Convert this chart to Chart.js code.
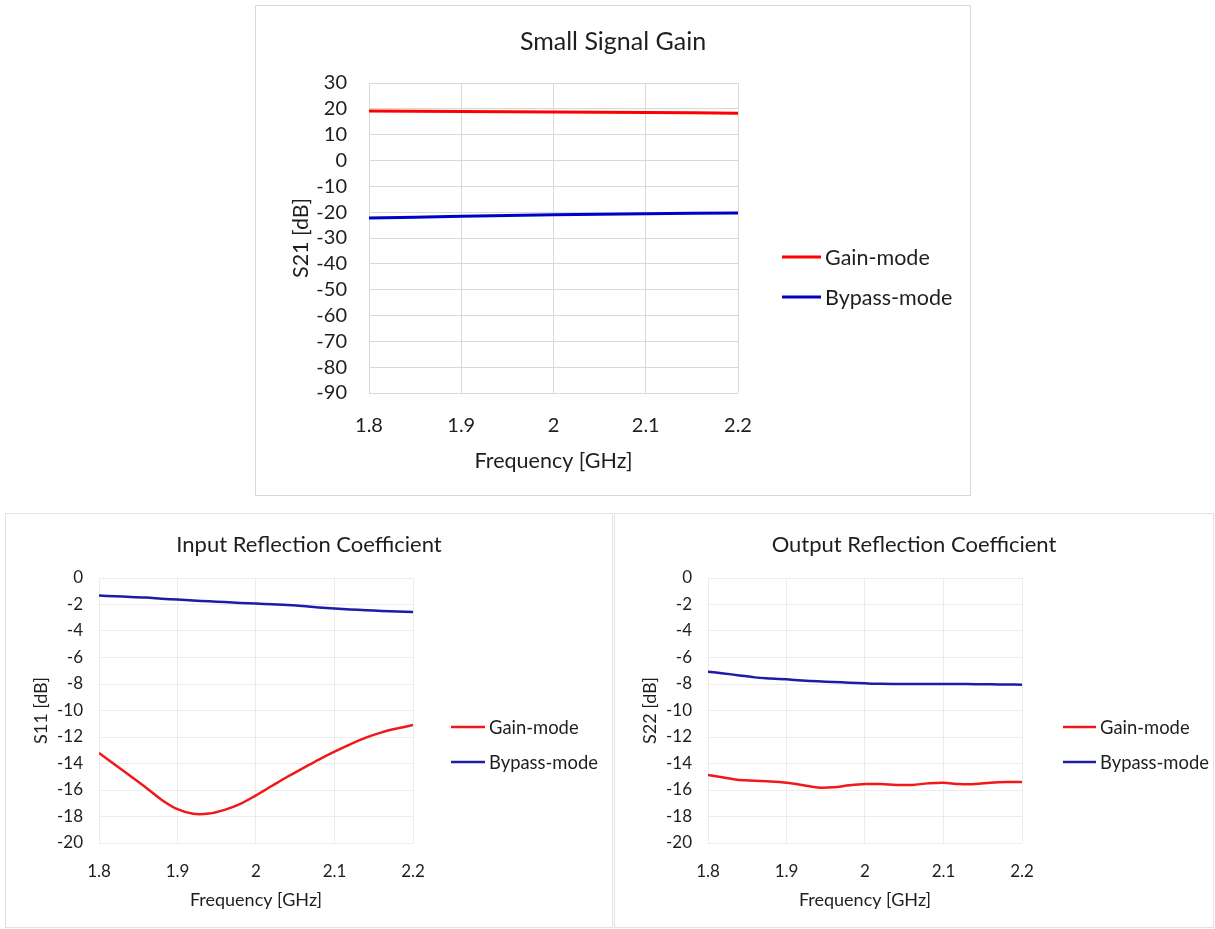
<!DOCTYPE html>
<html lang="en">
<head>
    <meta charset="UTF-8">
    <title>Small Signal Gain / Reflection Coefficients</title>
    <script src="https://cdn.jsdelivr.net/npm/chart.js@4.4.1/dist/chart.umd.min.js"></script>
    <style>
        body { margin: 0; background: #fff; }
        .box { position: absolute; border: 1px solid #d9d9d9; background: #fff; }
        .box canvas { display: block; }
    </style>
</head>
<body>
    <div class="box" style="left:255px; top:5px;"><canvas id="c_s21" width="714" height="489"></canvas></div>
    <div class="box" style="left:5px; top:513px; border-color:#e2e2e2;"><canvas id="c_s11" width="606" height="413"></canvas></div>
    <div class="box" style="left:614px; top:513px; border-color:#e2e2e2;"><canvas id="c_s22" width="598" height="413"></canvas></div>

    <script>
        // frequency points [GHz]
        var freqS21 = [1.8, 1.9, 2.0, 2.1, 2.2]
        var freq = [1.80, 1.82, 1.84, 1.86, 1.88, 1.90, 1.92, 1.94, 1.96, 1.98, 2.00,
                    2.02, 2.04, 2.06, 2.08, 2.10, 2.12, 2.14, 2.16, 2.18, 2.20]

        // S21 [dB]
        var s21Gain = [19.2, 19.0, 18.8, 18.6, 18.3]
        var s21Bypass = [-22.3, -21.6, -21.0, -20.6, -20.3]

        // S11 [dB]
        var s11Gain = [-13.2, -14.08, -14.95, -15.83, -16.75, -17.45, -17.8, -17.78, -17.5, -17.05, -16.4,
                       -15.7, -15.0, -14.35, -13.7, -13.1, -12.55, -12.05, -11.65, -11.35, -11.1]
        var s11Bypass = [-1.33, -1.38, -1.43, -1.48, -1.56, -1.63, -1.70, -1.76, -1.82, -1.88, -1.93,
                         -1.98, -2.03, -2.12, -2.22, -2.30, -2.37, -2.43, -2.49, -2.53, -2.56]

        // S22 [dB]
        var s22Gain = [-14.87, -15.05, -15.25, -15.3, -15.35, -15.45, -15.62, -15.82, -15.8, -15.65, -15.55,
                       -15.55, -15.62, -15.62, -15.5, -15.45, -15.55, -15.55, -15.45, -15.4, -15.4]
        var s22Bypass = [-7.07, -7.2, -7.35, -7.5, -7.58, -7.65, -7.73, -7.8, -7.85, -7.9, -7.95,
                         -7.99, -8.0, -8.0, -8.0, -8.0, -8.0, -8.01, -8.02, -8.04, -8.05]

        var seriesNames = ['Gain-mode', 'Bypass-mode']
        var xTicks = [1.8, 1.9, 2.0, 2.1, 2.2]

        Chart.defaults.font.family = 'Lato, "Noto Sans", sans-serif'
        Chart.defaults.color = '#1e1e1e'

        function pontos(xs, ys) {
            return xs.map(function (x, i) { return { x: x, y: ys[i] } })
        }

        // title centred on the whole canvas + legend at a fixed spot right of the plot
        var tituloLegenda = {
            id: 'tituloLegenda',
            afterDraw: function (chart, args, opts) {
                var ctx = chart.ctx
                ctx.save()
                ctx.textBaseline = 'middle'
                ctx.fillStyle = '#1e1e1e'
                ctx.font = opts.titleSize + 'px ' + Chart.defaults.font.family
                ctx.textAlign = 'center'
                ctx.fillText(opts.title, chart.width / 2, opts.titleY)

                ctx.textAlign = 'left'
                ctx.font = opts.fontSize + 'px ' + Chart.defaults.font.family
                chart.data.datasets.forEach(function (ds, i) {
                    var y = opts.y + i * opts.gap
                    ctx.strokeStyle = ds.borderColor
                    ctx.lineWidth = ds.borderWidth
                    ctx.beginPath()
                    ctx.moveTo(opts.x, y)
                    ctx.lineTo(opts.x + opts.len, y)
                    ctx.stroke()
                    ctx.fillStyle = '#1e1e1e'
                    ctx.fillText(ds.label, opts.x + opts.len + 4, y + 1)
                })
                ctx.restore()
            }
        }

        function gerarGrafico(id, cfg) {
            var ctx = document.getElementById(id).getContext('2d')
            return new Chart(ctx, {
                type: 'line',
                data: {
                    datasets: [{
                        label: seriesNames[0],
                        data: pontos(cfg.xs, cfg.gain),
                        borderColor: cfg.red,
                        backgroundColor: cfg.red,
                        borderWidth: cfg.lw,
                        pointRadius: 0,
                        tension: 0.35
                    }, {
                        label: seriesNames[1],
                        data: pontos(cfg.xs, cfg.bypass),
                        borderColor: cfg.blue,
                        backgroundColor: cfg.blue,
                        borderWidth: cfg.lw,
                        pointRadius: 0,
                        tension: 0.35
                    }]
                },
                plugins: [tituloLegenda],
                options: {
                    responsive: false,
                    animation: false,
                    layout: { padding: { left: 0, top: cfg.padTop, right: cfg.padRight, bottom: 0 } },
                    plugins: {
                        legend: { display: false },
                        tooltip: { enabled: false },
                        title: { display: false },
                        tituloLegenda: cfg.legend
                    },
                    scales: {
                        x: {
                            type: 'linear',
                            min: 1.8,
                            max: 2.2,
                            afterBuildTicks: function (s) { s.ticks = xTicks.map(function (v) { return { value: v } }) },
                            afterFit: function (s) { s.height = cfg.xHeight },
                            ticks: {
                                font: { size: cfg.tickSize },
                                padding: cfg.xTickPad,
                                maxRotation: 0,
                                autoSkip: false,
                                callback: function (v) { return String(+v.toFixed(1)) }
                            },
                            grid: { color: cfg.grid, drawTicks: false },
                            border: { display: false },
                            title: {
                                display: true,
                                text: 'Frequency [GHz]',
                                font: { size: cfg.axisTitleSize },
                                padding: { top: 0, bottom: cfg.xTitlePad }
                            }
                        },
                        y: {
                            min: cfg.yMin,
                            max: cfg.yMax,
                            afterFit: function (s) { s.width = cfg.yWidth },
                            ticks: {
                                stepSize: cfg.yStep,
                                autoSkip: false,
                                font: { size: cfg.tickSize },
                                padding: cfg.yTickPad
                            },
                            grid: { color: cfg.grid, drawTicks: false },
                            border: { display: false },
                            title: {
                                display: true,
                                text: cfg.yTitle,
                                font: { size: cfg.axisTitleSize },
                                padding: { top: cfg.yTitlePad, bottom: 0 }
                            }
                        }
                    }
                }
            })
        }

        gerarGrafico('c_s21', {
            yTitle: 'S21 [dB]',
            xs: freqS21, gain: s21Gain, bypass: s21Bypass,
            red: '#ff0000', blue: '#0000c8', lw: 3, grid: '#d9d9d9',
            yMin: -90, yMax: 30, yStep: 10,
            padTop: 77, padRight: 232, yWidth: 113, xHeight: 102,
            tickSize: 20, xTickPad: 21, yTickPad: 22,
            axisTitleSize: 21.5, xTitlePad: 21, yTitlePad: 32,
            legend: { title: 'Small Signal Gain', titleSize: 25, titleY: 36,
                      x: 526, y: 251, gap: 40, len: 39, fontSize: 21.5 }
        })

        gerarGrafico('c_s11', {
            yTitle: 'S11 [dB]',
            xs: freq, gain: s11Gain, bypass: s11Bypass,
            red: '#f01818', blue: '#1c1ca6', lw: 2.5, grid: '#ececec',
            yMin: -20, yMax: 0, yStep: 2,
            padTop: 64, padRight: 199, yWidth: 93, xHeight: 84,
            tickSize: 17, xTickPad: 18, yTickPad: 16,
            axisTitleSize: 18, xTitlePad: 16, yTitlePad: 24,
            legend: { title: 'Input Reflection Coefficient', titleSize: 22, titleY: 31,
                      x: 445, y: 213, gap: 35, len: 34, fontSize: 18.4 }
        })

        gerarGrafico('c_s22', {
            yTitle: 'S22 [dB]',
            xs: freq, gain: s22Gain, bypass: s22Bypass,
            red: '#f01818', blue: '#1c1ca6', lw: 2.5, grid: '#ececec',
            yMin: -20, yMax: 0, yStep: 2,
            padTop: 64, padRight: 191, yWidth: 93, xHeight: 84,
            tickSize: 17, xTickPad: 18, yTickPad: 16,
            axisTitleSize: 18, xTitlePad: 16, yTitlePad: 24,
            legend: { title: 'Output Reflection Coefficient', titleSize: 22, titleY: 31,
                      x: 448, y: 213, gap: 35, len: 33, fontSize: 18.4 }
        })
    </script>
</body>
</html>
